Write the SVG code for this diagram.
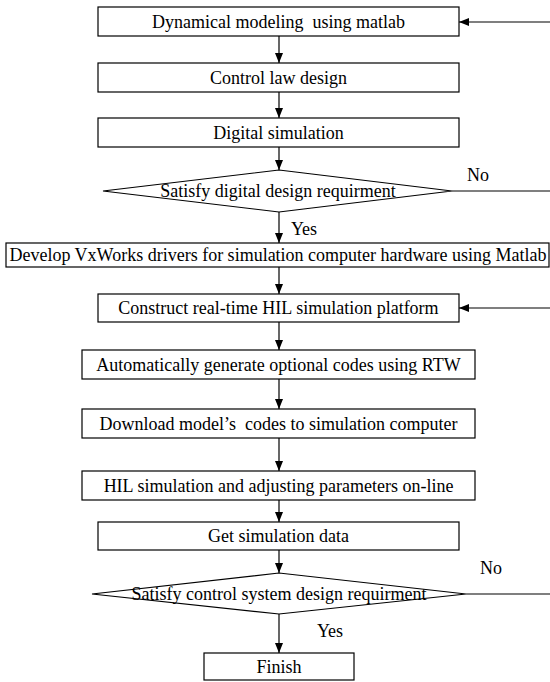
<svg xmlns="http://www.w3.org/2000/svg" width="550" height="682" viewBox="0 0 550 682" xml:space="preserve">
<defs>
<marker id="ah" markerWidth="10" markerHeight="8" refX="10" refY="4" orient="auto" markerUnits="userSpaceOnUse">
<path d="M0,0 L10,4 L0,8 Z" fill="#000"/>
</marker>
<style>
.n rect, .n polygon { fill: #fff; stroke: #000; stroke-width: 1.2; }
text { font-family: 'Liberation Serif', 'DejaVu Serif', serif; font-size: 18px; fill: #000; text-anchor: middle; white-space: pre; }
.c line { stroke: #000; stroke-width: 1.2; marker-end: url(#ah); }
.c line.plain { marker-end: none; }
</style>
</defs>
<rect width="550" height="682" fill="#fff"/>
<g class="c" id="connectors">
<line x1="279" y1="36" x2="279" y2="63"/>
<line x1="279" y1="92" x2="279" y2="118"/>
<line x1="279" y1="147" x2="279" y2="170"/>
<line x1="279" y1="212" x2="279" y2="243"/>
<line x1="279" y1="267" x2="279" y2="294"/>
<line x1="279" y1="322" x2="279" y2="350"/>
<line x1="279" y1="379" x2="279" y2="409"/>
<line x1="279" y1="438" x2="279" y2="471"/>
<line x1="279" y1="500" x2="279" y2="522"/>
<line x1="279" y1="550" x2="279" y2="573"/>
<line x1="279" y1="614" x2="279" y2="653"/>
<line x1="550" y1="22" x2="459" y2="22"/>
<line x1="550" y1="308" x2="459" y2="308"/>
<line class="plain" x1="452" y1="191" x2="550" y2="191"/>
<line class="plain" x1="466" y1="594" x2="550" y2="594"/>
<text x="478" y="181">No</text>
<text x="304" y="235">Yes</text>
<text x="491" y="574">No</text>
<text x="330" y="637">Yes</text>
</g>
<g class="n" id="n1"><rect x="98" y="7" width="361" height="29"/><text x="278.5" y="28">Dynamical modeling  using matlab</text></g>
<g class="n" id="n2"><rect x="98" y="63" width="361" height="29"/><text x="278.5" y="84">Control law design</text></g>
<g class="n" id="n3"><rect x="98" y="118" width="361" height="29"/><text x="278.5" y="139">Digital simulation</text></g>
<g class="n" id="d1"><polygon points="103,191 279,170 452,191 279,212"/><text x="278" y="197">Satisfy digital design requirment</text></g>
<g class="n" id="n4"><rect x="6" y="243" width="543" height="24"/><text x="278" y="261">Develop VxWorks drivers for simulation computer hardware using Matlab</text></g>
<g class="n" id="n5"><rect x="98" y="294" width="361" height="28"/><text x="278.5" y="314">Construct real-time HIL simulation platform</text></g>
<g class="n" id="n6"><rect x="82" y="350" width="393" height="29"/><text x="278.5" y="371">Automatically generate optional codes using RTW</text></g>
<g class="n" id="n7"><rect x="82" y="409" width="393" height="29"/><text x="278.5" y="430">Download model’s  codes to simulation computer</text></g>
<g class="n" id="n8"><rect x="82" y="471" width="393" height="29"/><text x="278.5" y="492">HIL simulation and adjusting parameters on-line</text></g>
<g class="n" id="n9"><rect x="98" y="522" width="361" height="28"/><text x="278.5" y="542">Get simulation data</text></g>
<g class="n" id="d2"><polygon points="92,594 279,573 466,594 279,614"/><text x="279" y="600">Satisfy control system design requirment</text></g>
<g class="n" id="n10"><rect x="204" y="653" width="150" height="27"/><text x="279" y="673">Finish</text></g>
</svg>
